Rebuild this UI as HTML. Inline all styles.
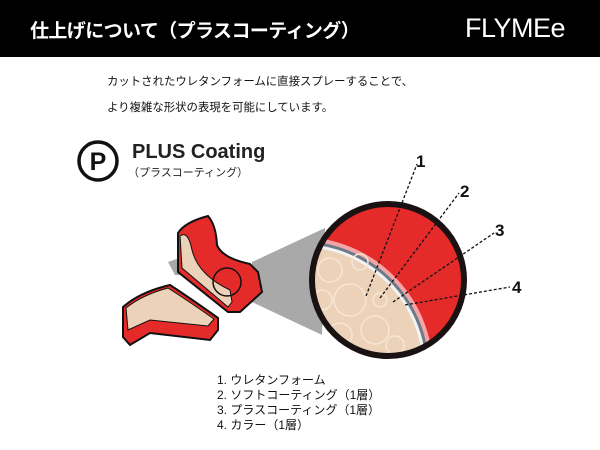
<!DOCTYPE html>
<html style="overflow:hidden;height:450px"><head><meta charset="utf-8"><style>
body{margin:0;width:600px;height:450px;background:#fff;overflow:hidden;position:relative;font-family:"Liberation Sans","Noto Sans CJK JP",sans-serif}
.hd{position:absolute;left:0;top:0;width:600px;height:57px;background:#000}
.t{position:absolute;white-space:nowrap}
</style></head><body>
<div class="hd"></div>
<div class="t" style="left:30px;top:16px;font-size:19px;font-weight:bold;color:#fff;letter-spacing:-0.6px">仕上げについて（プラスコーティング）</div>
<div class="t" style="left:465px;top:13px;font-size:27px;color:#fff;letter-spacing:-0.5px">FLYMEe</div>
<div class="t" style="left:107px;top:69px;font-size:11.4px;line-height:26px;color:#111">カットされたウレタンフォームに直接スプレーすることで、<br>より複雑な形状の表現を可能にしています。</div>
<div class="t" style="left:132px;top:141px;font-size:20px;font-weight:bold;color:#222">PLUS Coating</div>
<div class="t" style="left:128px;top:164px;font-size:11px;color:#222">（プラスコーティング）</div>
<div class="t" style="left:217px;top:373px;font-size:12px;line-height:15px;color:#111">1. ウレタンフォーム<br>2. ソフトコーティング（1層）<br>3. プラスコーティング（1層）<br>4. カラー（1層）</div>
<svg width="600" height="450" style="position:absolute;left:0;top:0">
<circle cx="98" cy="161" r="19" fill="none" stroke="#111" stroke-width="3.5"/>
<text x="98" y="170" font-family="Liberation Sans" font-weight="bold" font-size="25" text-anchor="middle" fill="#111">P</text>
<polygon points="252,262 325,228 322,335 252,302" fill="#a9a9a9"/>
<polygon points="168,262 185,256 190,275 175,275" fill="#a9a9a9"/>
<path d="M178,233 Q185,222 208,216 Q216,225 217,245 Q222,258 250,264 L258,272 L262,292 L240,312 L228,312 L178,272 Z" fill="#e52a2a" stroke="#111" stroke-width="2"/>
<path d="M180,236 Q188,230 192,250 Q198,275 230,290 L232,302 L228,307 L182,268 Z" fill="#ecd2b8" stroke="#111" stroke-width="1"/>
<circle cx="227" cy="282" r="14" fill="none" stroke="#111" stroke-width="1.5"/>
<path d="M123,307 Q140,292 170,285 Q190,298 218,318 L218,330 L210,340 L150,333 L130,345 L123,337 Z" fill="#e52a2a" stroke="#111" stroke-width="2"/>
<path d="M126,308 Q142,295 168,288 Q190,302 214,319 L208,326 L150,320 L128,330 Z" fill="#ecd2b8" stroke="#111" stroke-width="1"/>
<defs><clipPath id="c"><circle cx="388" cy="280" r="76"/></clipPath></defs>
<g clip-path="url(#c)">
<rect x="300" y="190" width="180" height="180" fill="#e52a2a"/>
<circle cx="300" cy="370" r="133" fill="#f4a4a4"/>
<circle cx="300" cy="370" r="129" fill="#6b7b88"/>
<circle cx="300" cy="370" r="126" fill="#f3f3f3"/>
<circle cx="300" cy="370" r="123" fill="#ecd2b8"/>
<g fill="none" stroke="#f7e6d4" stroke-width="1.5">
<circle cx="330" cy="270" r="12"/><circle cx="350" cy="300" r="16"/><circle cx="322" cy="300" r="10"/><circle cx="375" cy="330" r="14"/><circle cx="340" cy="335" r="12"/><circle cx="360" cy="262" r="8"/><circle cx="395" cy="345" r="9"/><circle cx="318" cy="325" r="8"/><circle cx="380" cy="300" r="7"/>
</g>
</g>
<circle cx="388" cy="280" r="76" fill="none" stroke="#1a1212" stroke-width="6"/>
<g stroke="#111" stroke-width="1.3" stroke-dasharray="3,2">
<line x1="366" y1="296" x2="417" y2="164"/>
<line x1="380" y1="298" x2="459" y2="193"/>
<line x1="393" y1="302" x2="494" y2="233"/>
<line x1="405" y1="305" x2="510" y2="287"/>
</g>
<g font-family="Liberation Sans" font-weight="bold" font-size="17" fill="#111">
<text x="416" y="167">1</text><text x="460" y="197">2</text><text x="495" y="236">3</text><text x="512" y="293">4</text>
</g>
</svg>
</body></html>
